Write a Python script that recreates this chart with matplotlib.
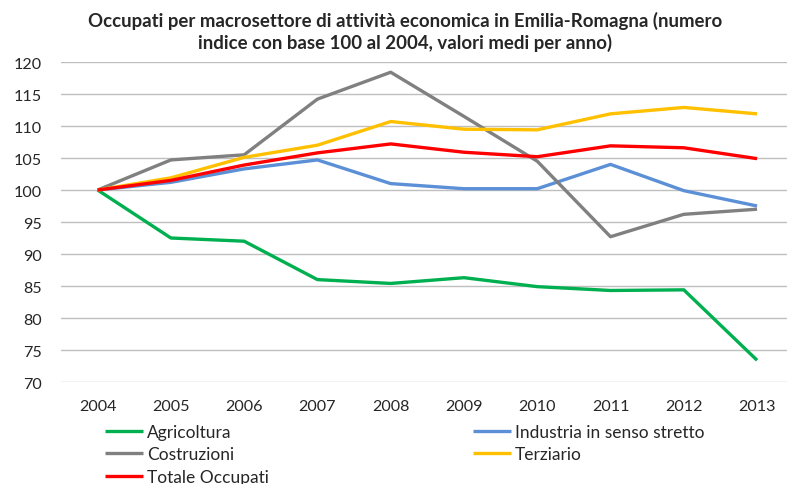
import matplotlib
matplotlib.use("Agg")
import matplotlib.pyplot as plt

plt.rcParams['font.family'] = ['Lato', 'DejaVu Sans']

# dati
anni = ["2004", "2005", "2006", "2007", "2008", "2009", "2010", "2011", "2012", "2013"]
agricoltura = [100, 92.5, 92.0, 86.0, 85.4, 86.3, 84.9, 84.3, 84.4, 73.4]
industria = [100, 101.2, 103.3, 104.7, 101.0, 100.2, 100.2, 104.0, 99.9, 97.5]
costruzioni = [100, 104.7, 105.5, 114.2, 118.4, 111.5, 104.5, 92.7, 96.2, 97.0]
terziario = [100, 101.9, 105.1, 107.0, 110.7, 109.5, 109.4, 111.9, 112.9, 111.9]
totale = [100, 101.5, 103.9, 105.8, 107.2, 105.9, 105.2, 106.9, 106.6, 104.9]

serie = [
    ("Agricoltura", agricoltura, "#00B050"),
    ("Industria in senso stretto", industria, "#5B8FD6"),
    ("Costruzioni", costruzioni, "#808080"),
    ("Terziario", terziario, "#FFC000"),
    ("Totale Occupati", totale, "#FF0000"),
]

fig = plt.figure(figsize=(7.87, 4.85), dpi=100)
ax = fig.add_axes([0.0775, 0.2103, 0.931, 0.6598])

x = list(range(len(anni)))
handles = {}
for nome, valori, colore in serie:
    h, = ax.plot(x, valori, color=colore, linewidth=2.4, solid_capstyle="butt")
    handles[nome] = h

ax.set_xlim(-0.5, 9.5)
ax.set_ylim(70, 120)
ax.set_yticks(range(70, 121, 5))
ax.set_xticks(x)
ax.set_xticklabels(anni)
ax.grid(axis="y", color="#BFBFBF", linewidth=1.0)
ax.set_axisbelow(True)
for s in ax.spines.values():
    s.set_visible(False)
ax.tick_params(axis="both", length=0, labelsize=11.6, colors="#262626")
ax.tick_params(axis="y", pad=14)
ax.tick_params(axis="x", pad=12)

# titolo su due righe
fig.text(0.515, 1 - 12 / 485, "Occupati per macrosettore di attività economica in Emilia-Romagna (numero\n"
         "indice con base 100 al 2004, valori medi per anno)",
         ha="center", va="top", fontsize=13.4, fontweight="bold", color="#262626",
         linespacing=1.28)

kw = dict(frameon=False, fontsize=12.5, handlelength=2.2, handletextpad=0.23,
          labelspacing=0.37, borderaxespad=0, borderpad=0)
leg1 = fig.legend([handles["Agricoltura"], handles["Costruzioni"], handles["Totale Occupati"]],
                  ["Agricoltura", "Costruzioni", "Totale Occupati"],
                  loc="upper left", bbox_to_anchor=(105 / 787, 1 - 425 / 485), **kw)
leg2 = fig.legend([handles["Industria in senso stretto"], handles["Terziario"]],
                  ["Industria in senso stretto", "Terziario"],
                  loc="upper left", bbox_to_anchor=(473 / 787, 1 - 425 / 485), **kw)
for leg in (leg1, leg2):
    for t in leg.get_texts():
        t.set_color("#262626")

fig.savefig("out.png", dpi=100)
